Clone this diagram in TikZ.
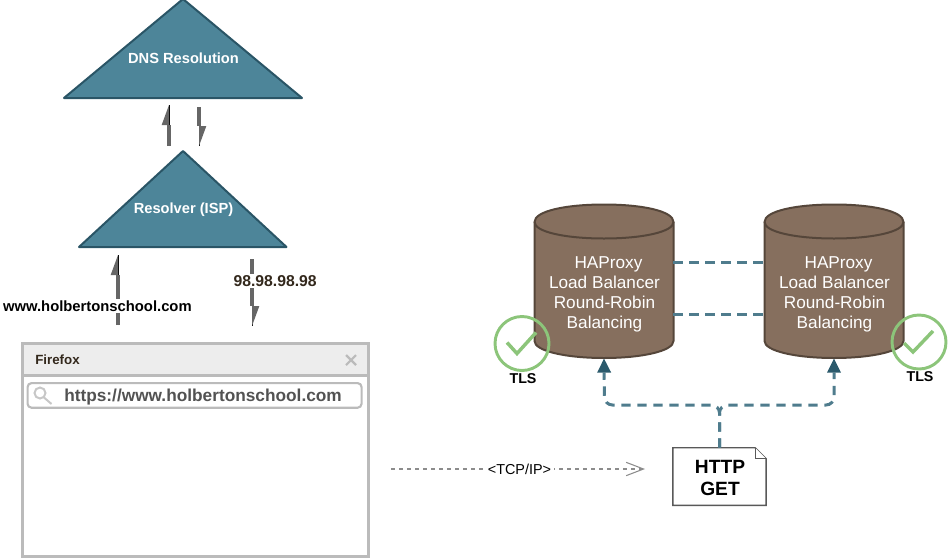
\documentclass[tikz,border=0pt]{standalone}
\usepackage{fontspec}
\setmainfont{Liberation Sans}
\usetikzlibrary{arrows.meta,calc}
\definecolor{teal}{HTML}{4D8599}
\definecolor{tealdark}{HTML}{2A5566}
\definecolor{dashteal}{HTML}{4F7C8D}
\definecolor{headteal}{HTML}{2B5A6C}
\definecolor{brownf}{HTML}{866F5E}
\definecolor{brownd}{HTML}{55463A}
\definecolor{greyarrow}{HTML}{666666}
\definecolor{boxgrey}{HTML}{BBBBBB}
\definecolor{okgreen}{HTML}{8CC57A}
\definecolor{darktext}{HTML}{33281C}
\tikzset{
  tri/.style={fill=teal,draw=tealdark,line width=1.5pt,line join=round},
  tritext/.style={text=white,font=\bfseries\fontsize{11}{13}\selectfont,inner sep=0pt},
  harpl/.style={line width=3pt,draw=greyarrow,preaction={draw,-},-{Triangle[left,length=15pt,width=11pt,fill=greyarrow,line width=0pt]}},
  addr/.style={fill=white,inner sep=1pt,font=\bfseries\fontsize{11.1}{13}\selectfont},
  cyl/.style={fill=brownf,draw=brownd,line width=1.5pt},
  cylbox/.style={minimum width=103.5pt,minimum height=116pt,inner sep=0pt},
  cyltext/.style={text=white,align=center,inner sep=0pt,font=\fontsize{12.9}{15}\selectfont},
  link/.style={draw=dashteal,line width=2.25pt,dash pattern=on 7pt off 5pt},
  okring/.style={circle,draw=okgreen,line width=2.2pt,minimum size=40.5pt,inner sep=0pt},
  okmark/.style={draw=okgreen,line width=2.6pt},
  tls/.style={font=\bfseries\fontsize{10.7}{13}\selectfont,inner sep=0pt},
  winbox/.style={draw=boxgrey,line width=1.9pt,anchor=north west,inner sep=0pt},
  doctext/.style={inner sep=0pt,align=center,font=\bfseries\fontsize{14.4}{16.5}\selectfont},
}
\begin{document}
\begin{tikzpicture}[x=0.75pt,y=-0.75pt]
\useasboundingbox (0,0) rectangle (949,557);
% triangles
\draw[tri] (183,-1) -- (302,98) -- (64,98) -- cycle;
\node[tritext] (dns) at (183.5,58) {DNS Resolution};
\draw[tri] (183,151) -- (286.5,247) -- (79,247) -- cycle;
\node[tritext] (res) at (183.5,210) {Resolver (ISP)};
% half arrows
\coordinate (a1s) at (169,146); \coordinate (a1e) at (169,105);
\coordinate (a2s) at (199,107); \coordinate (a2e) at (199,146);
\coordinate (a3s) at (118,325); \coordinate (a3e) at (118,255);
\coordinate (a4s) at (252,259); \coordinate (a4e) at (252,326);
\draw[harpl] (a1s) -- (a1e);
\draw[harpl] (a2s) -- (a2e);
\draw[harpl] (a3s) -- (a3e);
\draw[harpl] (a4s) -- (a4e);
\node[addr,anchor=west] (www) at (1.5,306) {www.holbertonschool.com};
\node[addr,anchor=west,text=darktext,font=\bfseries\fontsize{11.8}{13}\selectfont] (ip) at (232,281) {98.98.98.98};
% browser
\node[winbox,minimum width=259.5pt,minimum height=160pt] (win) at (21,342) {};
\node[winbox,fill=black!7,minimum width=259.5pt,minimum height=24pt] (bar) at (21,342) {};
\node[anchor=west,inner sep=0pt,text=darktext,font=\bfseries\fontsize{10}{12}\selectfont] (ff) at (35,360) {Firefox};
\coordinate (xc) at (351,360);
\draw[boxgrey,line width=1.6pt] ($(xc)+(-5,-5)$) -- ($(xc)+(5,5)$) ($(xc)+(-5,5)$) -- ($(xc)+(5,-5)$);
\node[winbox,rounded corners=3pt,minimum width=250.5pt,minimum height=18.5pt,line width=1.6pt] (search) at (26.5,382) {};
\draw[black!22,line width=1.5pt] (40,393) circle[radius=5.5] (44,397.5) -- (51.5,404);
\node[anchor=west,inner sep=0pt,text=black!68,font=\bfseries\fontsize{12.95}{15}\selectfont] (url) at (64,397.5) {https://www.holbertonschool.com};
% load balancers
\foreach \cx in {604,834}{
  \draw[cyl] (\cx-69.5,222) -- (\cx-69.5,341)
     .. controls (\cx-69.5,351) and (\cx-38,358) .. (\cx,358)
     .. controls (\cx+38,358) and (\cx+69.5,351) .. (\cx+69.5,341)
     -- (\cx+69.5,222)
     .. controls (\cx+69.5,211) and (\cx+38,204.5) .. (\cx,204.5)
     .. controls (\cx-38,204.5) and (\cx-69.5,211) .. (\cx-69.5,222) -- cycle;
  \draw[cyl,fill=none] (\cx-69.5,222) .. controls (\cx-69.5,232) and (\cx-38,238.5) .. (\cx,238.5)
     .. controls (\cx+38,238.5) and (\cx+69.5,232) .. (\cx+69.5,222);
}
\node[cylbox] (lb1) at (604,281) {};
\node[cylbox] (lb2) at (834,281) {};
\node[cyltext] (lb1t) at (604.5,294) {\baselineskip=15pt\hspace*{6pt}HAProxy\\Load Balancer\\Round-Robin\\Balancing};
\node[cyltext] (lb2t) at (834.5,294) {\baselineskip=15pt\hspace*{6pt}HAProxy\\Load Balancer\\Round-Robin\\Balancing};
\draw[link] ([yshift=14.2pt]lb1.east) -- ([yshift=14.2pt]lb2.west);
\draw[link] ([yshift=-25.1pt]lb1.east) -- ([yshift=-25.1pt]lb2.west);
% TLS
\node[okring] (ok1) at (522,343.5) {};
\node[okring] (ok2) at (919,342) {};
\draw[okmark] ($(ok1)+(-15,-1)$) -- ($(ok1)+(-5,10)$) -- ($(ok1)+(14,-11)$);
\draw[okmark] ($(ok2)+(-15,1)$) -- ($(ok2)+(-6,10)$) -- ($(ok2)+(14,-11)$);
\node[tls] (t1) at (523,379) {TLS};
\node[tls] (t2) at (920,377) {TLS};
% document
\node[minimum width=69.5pt,minimum height=42.75pt,inner sep=0pt] (doc) at (719.5,476.5) {};
\draw[draw=black!65,fill=white,line width=1.1pt] (doc.north west) -- ([xshift=-8.2pt]doc.north east) -- ([yshift=-8.2pt]doc.north east) -- (doc.south east) -- (doc.south west) -- cycle;
\draw[draw=black!65,line width=0.8pt,fill=white] ([xshift=-8.2pt]doc.north east) -- ([xshift=-8.2pt,yshift=-8.2pt]doc.north east) -- ([yshift=-8.2pt]doc.north east);
\node[doctext] (doct) at (720,478) {HTTP\\GET};
% connectors
\draw[draw=dashteal,line width=2.25pt,dash pattern=on 7pt off 5pt,rounded corners=6pt,-{Triangle[length=10.5pt,width=10.5pt,fill=headteal,line width=0pt]}]
  (doc.north) |- (604.5,405) -- (lb1.south);
\draw[draw=dashteal,line width=2.25pt,dash pattern=on 7pt off 5pt,rounded corners=6pt,-{Triangle[length=10.5pt,width=10.5pt,fill=headteal,line width=0pt]}]
  (doc.north) |- (834,405) -- (lb2.south);
% TCP
\coordinate (tcpa) at (391,469);
\coordinate (tcpb) at (645,469);
\draw[black!45,line width=1pt,dash pattern=on 3.2pt off 2.8pt,-{Straight Barb[length=13pt,width=10pt,line width=0.8pt]}] (tcpa) -- (tcpb);
\node[fill=white,inner sep=2.5pt,font=\fontsize{10.8}{12}\selectfont] (tcp) at (519.5,469) {<TCP/IP>};
\end{tikzpicture}
\end{document}
